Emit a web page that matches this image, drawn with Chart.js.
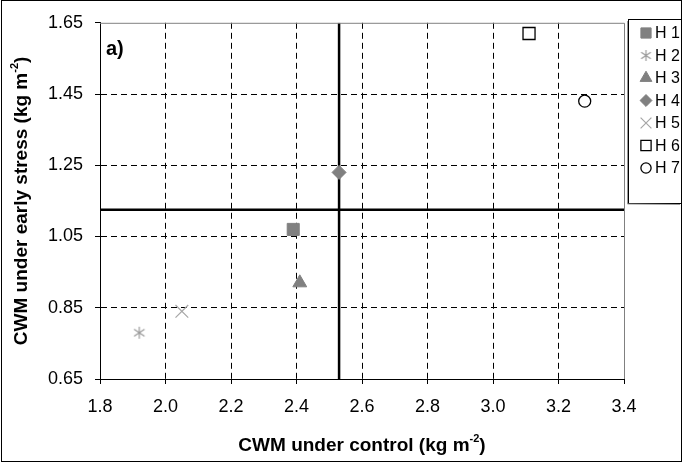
<!DOCTYPE html>
<html>
<head>
<meta charset="utf-8">
<script src="https://cdn.jsdelivr.net/npm/chart.js@4.4.1/dist/chart.umd.min.js"></script>
<style>
html,body{margin:0;padding:0;background:#fff;}
#wrap{width:683px;height:464px;position:relative;}
</style>
</head>
<body>
<div id="wrap"><canvas id="c" width="683" height="464"></canvas></div>
<script>
// ---- data ----
const seriesNames = ['H 1', 'H 2', 'H 3', 'H 4', 'H 5', 'H 6', 'H 7'];
const cwmControl = [2.39, 1.92, 2.41, 2.53, 2.05, 3.11, 3.28];
const cwmEarlyStress = [1.07, 0.78, 0.92, 1.23, 0.84, 1.62, 1.43];
const refControl = 2.53;
const refStress = 1.125;
const xTickValues = [1.8, 2.0, 2.2, 2.4, 2.6, 2.8, 3.0, 3.2, 3.4];
const yTickValues = [0.65, 0.85, 1.05, 1.25, 1.45, 1.65];
const xAxisTitle = ['CWM under control (kg m', '-2', ')'];
const yAxisTitle = ['CWM under early stress (kg m', '-2', ')'];
const panelLabel = 'a)';

// ---- styles ----
function asteriskCanvas(size, color) {
  const c = document.createElement('canvas');
  c.width = size; c.height = size;
  const g = c.getContext('2d');
  g.strokeStyle = color; g.lineWidth = 1.2;
  const m = size / 2, r = size / 2 - 1;
  g.beginPath();
  g.moveTo(m, m - r); g.lineTo(m, m + r);
  g.moveTo(m - r * 0.87, m - r * 0.6); g.lineTo(m + r * 0.87, m + r * 0.6);
  g.moveTo(m - r * 0.87, m + r * 0.6); g.lineTo(m + r * 0.87, m - r * 0.6);
  g.stroke();
  return c;
}
const styles = [
  { pointStyle: 'rect', radius: 8.5, bg: '#808080', border: '#808080', bw: 1 },
  { pointStyle: asteriskCanvas(14, '#9a9a9a'), radius: 7, bg: '#9a9a9a', border: '#9a9a9a', bw: 1 },
  { pointStyle: 'triangle', radius: 8, bg: '#808080', border: '#808080', bw: 1 },
  { pointStyle: 'rectRot', radius: 7, bg: '#808080', border: '#808080', bw: 1 },
  { pointStyle: 'crossRot', radius: 9, bg: '#a6a6a6', border: '#a6a6a6', bw: 1.2 },
  { pointStyle: 'rect', radius: 8.5, bg: '#ffffff', border: '#000000', bw: 1.3 },
  { pointStyle: 'circle', radius: 6, bg: '#ffffff', border: '#000000', bw: 1.3 }
];
const legendIcons = [null, asteriskCanvas(13, '#9a9a9a'), null, null, null, null, null];

const datasets = seriesNames.map((name, i) => ({
  label: name,
  data: [{ x: cwmControl[i], y: cwmEarlyStress[i] }],
  pointStyle: styles[i].pointStyle,
  pointRadius: styles[i].radius,
  pointHoverRadius: styles[i].radius,
  backgroundColor: styles[i].bg,
  borderColor: styles[i].border,
  pointBorderWidth: styles[i].bw,
  showLine: false,
  order: 0
}));
datasets.push({
  label: 'refV',
  data: [{ x: refControl, y: yTickValues[0] }, { x: refControl, y: yTickValues[yTickValues.length - 1] }],
  showLine: true, borderColor: '#000', borderWidth: 2.5, pointRadius: 0, order: 5
});
datasets.push({
  label: 'refH',
  data: [{ x: xTickValues[0], y: refStress }, { x: xTickValues[xTickValues.length - 1], y: refStress }],
  showLine: true, borderColor: '#000', borderWidth: 2.5, pointRadius: 0, order: 5
});

const FONT = 'Liberation Sans, Arial, sans-serif';

function drawSupText(ctx, parts, cx, cy, size) {
  const sup = Math.round(size * 0.6);
  ctx.font = 'bold ' + size + 'px ' + FONT;
  const w0 = ctx.measureText(parts[0]).width;
  const w2 = ctx.measureText(parts[2]).width;
  ctx.font = 'bold ' + sup + 'px ' + FONT;
  const w1 = ctx.measureText(parts[1]).width;
  let x = cx - (w0 + w1 + w2) / 2;
  ctx.textBaseline = 'alphabetic';
  ctx.textAlign = 'left';
  ctx.font = 'bold ' + size + 'px ' + FONT;
  ctx.fillText(parts[0], x, cy); x += w0;
  ctx.font = 'bold ' + sup + 'px ' + FONT;
  ctx.fillText(parts[1], x, cy - size * 0.45); x += w1;
  ctx.font = 'bold ' + size + 'px ' + FONT;
  ctx.fillText(parts[2], x, cy);
}

const decor = {
  id: 'decor',
  afterDraw(chart) {
    const ctx = chart.ctx;
    const a = chart.chartArea;
    ctx.save();
    // plot-area top/right border (gray)
    ctx.strokeStyle = '#808080';
    ctx.lineWidth = 1;
    ctx.beginPath();
    ctx.moveTo(a.left, a.top + 0.5); ctx.lineTo(a.right + 0.5, a.top + 0.5);
    ctx.lineTo(a.right + 0.5, a.bottom);
    ctx.stroke();
    // outer frame
    ctx.strokeStyle = '#000';
    ctx.strokeRect(1.5, 0.5, 680, 461);
    // panel label
    ctx.fillStyle = '#000';
    ctx.font = 'bold 20px ' + FONT;
    ctx.textAlign = 'left'; ctx.textBaseline = 'alphabetic';
    ctx.fillText(panelLabel, 106, 55);
    // axis titles
    drawSupText(ctx, xAxisTitle, (a.left + a.right) / 2, 451, 19);
    ctx.save();
    ctx.translate(27, (a.top + a.bottom) / 2);
    ctx.rotate(-Math.PI / 2);
    drawSupText(ctx, yAxisTitle, 0, 0, 19);
    ctx.restore();
    // legend
    const lx = 628, ly = 19, lw = 53, lh = 184;
    ctx.fillStyle = '#fff';
    ctx.fillRect(lx, ly, lw, lh);
    ctx.strokeStyle = '#000';
    ctx.lineWidth = 1;
    ctx.strokeRect(lx + 0.5, ly + 0.5, lw, lh);
    ctx.strokeStyle = '#999';
    ctx.beginPath(); ctx.moveTo(lx - 0.5, ly + 2); ctx.lineTo(lx - 0.5, ly + lh + 1); ctx.lineTo(lx + lw - 1, ly + lh + 1.5); ctx.stroke();
    seriesNames.forEach((name, i) => {
      const y = 33 + i * 22.5;
      const st = styles[i];
      ctx.fillStyle = st.bg;
      ctx.strokeStyle = st.border;
      ctx.lineWidth = st.bw;
      const ps = legendIcons[i] || st.pointStyle;
      Chart.helpers.drawPoint(ctx, { pointStyle: ps, radius: st.radius * 0.85, rotation: 0, borderWidth: st.bw }, 646, y);
      ctx.fillStyle = '#000';
      ctx.font = '16px ' + FONT;
      ctx.textAlign = 'left'; ctx.textBaseline = 'middle';
      ctx.fillText(name, 655, y + 1);
    });
    ctx.restore();
  }
};

function gridColor(edgeVal) {
  return (c) => (c.tick && Math.abs(c.tick.value - edgeVal) < 1e-9) ? 'rgba(0,0,0,0)' : '#000';
}

new Chart(document.getElementById('c'), {
  type: 'scatter',
  data: { datasets },
  options: {
    responsive: false,
    animation: false,
    layout: { padding: { top: 20, right: 59, bottom: 0, left: 0 } },
    plugins: { legend: { display: false }, tooltip: { enabled: false } },
    scales: {
      x: {
        type: 'linear',
        min: xTickValues[0], max: xTickValues[xTickValues.length - 1],
        afterBuildTicks: (s) => { s.ticks = xTickValues.map(v => ({ value: v })); },
        afterFit: (s) => { s.height = 85; },
        border: { display: true, color: '#000', width: 1, dash: [6, 4] },
        grid: {
          color: gridColor(xTickValues[xTickValues.length - 1]),
          lineWidth: 1, tickLength: 5, tickColor: '#000', tickBorderDash: []
        },
        ticks: {
          color: '#000', font: { family: FONT, size: 18 }, padding: 12, maxRotation: 0,
          callback: (v) => Number(v).toFixed(1)
        }
      },
      y: {
        type: 'linear',
        min: yTickValues[0], max: yTickValues[yTickValues.length - 1],
        afterBuildTicks: (s) => { s.ticks = yTickValues.map(v => ({ value: v })); },
        afterFit: (s) => { s.width = 100; },
        border: { display: true, color: '#000', width: 1, dash: [6, 4] },
        grid: {
          color: gridColor(yTickValues[yTickValues.length - 1]),
          lineWidth: 1, tickLength: 5, tickColor: '#000', tickBorderDash: []
        },
        ticks: {
          color: '#000', font: { family: FONT, size: 18 }, padding: 12,
          callback: (v) => Number(v).toFixed(2)
        }
      }
    }
  },
  plugins: [decor]
});
</script>
</body>
</html>
